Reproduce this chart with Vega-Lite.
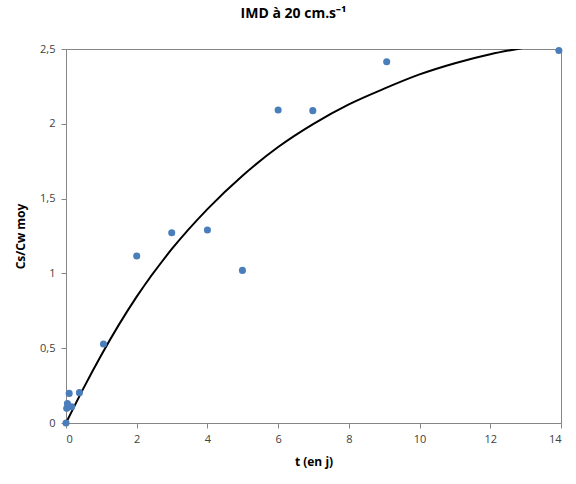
{
  "$schema": "https://vega.github.io/schema/vega-lite/v6.json",
  "width": 495,
  "height": 374,
  "autosize": "none",
  "padding": {"left": 66, "top": 49, "right": 15, "bottom": 61},
  "background": "white",
  "title": {
    "text": "IMD à 20 cm.s⁻¹",
    "font": "Open Sans",
    "fontSize": 14,
    "fontWeight": "bold",
    "color": "#000000",
    "anchor": "middle",
    "dx": -20,
    "offset": 22
  },
  "config": {
    "view": {"stroke": "#868686", "strokeWidth": 1},
    "axis": {
      "grid": false,
      "domainColor": "#868686",
      "tickColor": "#868686",
      "tickSize": 5,
      "labelFont": "Open Sans",
      "labelFontSize": 11,
      "labelColor": "#404040",
      "titleFont": "Open Sans",
      "titleFontSize": 12,
      "titleFontWeight": "bold",
      "titleColor": "#000000"
    }
  },
  "datasets": {
    "pts": [
      {"t": 0, "v": 0},
      {"t": 0.02, "v": 0.098},
      {"t": 0.04, "v": 0.13},
      {"t": 0.09, "v": 0.198},
      {"t": 0.16, "v": 0.109},
      {"t": 0.38, "v": 0.203},
      {"t": 1.06, "v": 0.528},
      {"t": 2.0, "v": 1.116},
      {"t": 2.99, "v": 1.272},
      {"t": 4.0, "v": 1.29},
      {"t": 4.99, "v": 1.02},
      {"t": 6.0, "v": 2.092},
      {"t": 6.98, "v": 2.088},
      {"t": 9.07, "v": 2.415},
      {"t": 13.94, "v": 2.49}
    ],
    "curve": [
      {"t": 0, "v": 0},
      {"t": 0.5, "v": 0.235},
      {"t": 1, "v": 0.455},
      {"t": 2, "v": 0.845},
      {"t": 3, "v": 1.165},
      {"t": 4, "v": 1.43},
      {"t": 5, "v": 1.655},
      {"t": 6, "v": 1.845},
      {"t": 7, "v": 2.0},
      {"t": 8, "v": 2.13},
      {"t": 9, "v": 2.235},
      {"t": 10, "v": 2.33},
      {"t": 11, "v": 2.405},
      {"t": 12, "v": 2.465},
      {"t": 13, "v": 2.51}
    ]
  },
  "layer": [
    {
      "data": {"name": "curve"},
      "mark": {"type": "line", "color": "#000000", "strokeWidth": 2, "interpolate": "monotone", "clip": true},
      "encoding": {
        "x": {"field": "t", "type": "quantitative"},
        "y": {"field": "v", "type": "quantitative"}
      }
    },
    {
      "data": {"name": "pts"},
      "mark": {"type": "circle", "color": "#4a7ebb", "opacity": 1, "size": 50},
      "encoding": {
        "x": {
          "field": "t", "type": "quantitative",
          "scale": {"domain": [0, 14], "nice": false, "zero": true},
          "axis": {"title": "t (en j)", "values": [0, 2, 4, 6, 8, 10, 12, 14], "labelPadding": 5, "titlePadding": 12}
        },
        "y": {
          "field": "v", "type": "quantitative",
          "scale": {"domain": [0, 2.5], "nice": false},
          "axis": {
            "title": "Cs/Cw moy",
            "values": [0, 0.5, 1, 1.5, 2, 2.5],
            "format": "~g",
            "labelExpr": "replace(datum.label, '.', ',')",
            "labelPadding": 6,
            "titlePadding": 12
          }
        }
      }
    }
  ]
}
